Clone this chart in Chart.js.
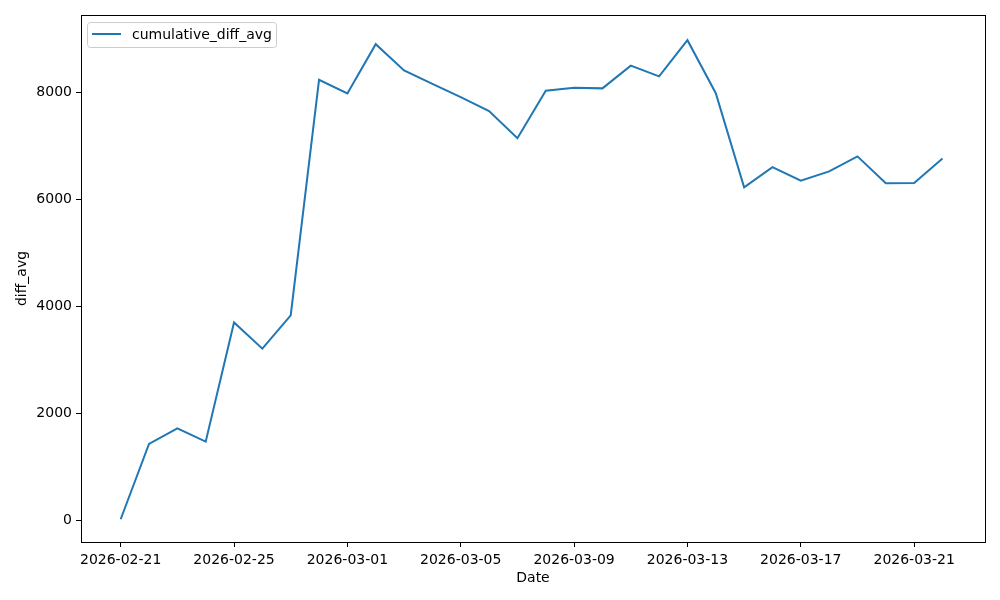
<!DOCTYPE html>
<html>
<head>
<meta charset="utf-8">
<script src="https://cdn.jsdelivr.net/npm/chart.js@4/dist/chart.umd.min.js"></script>
<style>
  body { margin: 0; background: #fff; }
  #wrap { width: 1000px; height: 600px; }
</style>
</head>
<body>
<div id="wrap"><canvas id="myChart" width="1000" height="600"></canvas></div>
<script>
const dates = [
  "2026-02-21", "2026-02-22", "2026-02-23", "2026-02-24", "2026-02-25",
  "2026-02-26", "2026-02-27", "2026-02-28", "2026-03-01", "2026-03-02",
  "2026-03-03", "2026-03-04", "2026-03-05", "2026-03-06", "2026-03-07",
  "2026-03-08", "2026-03-09", "2026-03-10", "2026-03-11", "2026-03-12",
  "2026-03-13", "2026-03-14", "2026-03-15", "2026-03-16", "2026-03-17",
  "2026-03-18", "2026-03-19", "2026-03-20", "2026-03-21", "2026-03-22"
];
const cumulativeDiffAvg = [
  30, 1435, 1725, 1478, 3705, 3215, 3838, 8235, 7980, 8900,
  8410, 8160, 7910, 7650, 7145, 8030, 8085, 8075, 8500, 8300,
  8975, 7985, 6228, 6603, 6350, 6525, 6805, 6305, 6308, 6765
];
const xTickIdx = [0, 4, 8, 12, 16, 20, 24, 28];
const yTicks = [0, 2000, 4000, 6000, 8000];

const FONT = "'DejaVu Sans', sans-serif";
const points = dates.map((d, i) => ({ x: i, y: cumulativeDiffAvg[i] }));

// matplotlib-style frame + legend box
const framePlugin = {
  id: "frame",
  afterDraw(chart) {
    const { ctx, chartArea: a } = chart;
    ctx.save();
    ctx.strokeStyle = "#000";
    ctx.lineWidth = 1;
    ctx.strokeRect(Math.round(a.left) + 0.5, Math.round(a.top) + 0.5,
      Math.round(a.right - a.left), Math.round(a.bottom - a.top));

    // legend
    const bx = a.left + 6, by = a.top + 7, bw = 189, bh = 25;
    ctx.fillStyle = "rgba(255,255,255,0.8)";
    ctx.strokeStyle = "#cccccc";
    ctx.beginPath();
    ctx.roundRect(bx + 0.5, by + 0.5, bw, bh, 3);
    ctx.fill();
    ctx.stroke();
    ctx.strokeStyle = "#1f77b4";
    ctx.lineWidth = 2;
    ctx.beginPath();
    ctx.moveTo(bx + 5, by + 12);
    ctx.lineTo(bx + 34, by + 12);
    ctx.stroke();
    ctx.fillStyle = "#000";
    ctx.font = "14px " + FONT;
    ctx.textBaseline = "middle";
    ctx.fillText("cumulative_diff_avg", bx + 45, by + 13);
    ctx.restore();
  }
};

const ctx = document.getElementById("myChart");
new Chart(ctx, {
  type: "line",
  data: {
    datasets: [{
      label: "cumulative_diff_avg",
      data: points,
      borderColor: "#1f77b4",
      borderWidth: 2,
      pointRadius: 0,
      tension: 0,
      fill: false
    }]
  },
  options: {
    responsive: false,
    animation: false,
    layout: { padding: { top: 15, right: 15, left: 0, bottom: 0 } },
    plugins: { legend: { display: false }, tooltip: { enabled: false } },
    scales: {
      x: {
        type: "linear",
        min: -1.4,
        max: 30.5,
        afterBuildTicks: s => { s.ticks = xTickIdx.map(v => ({ value: v })); },
        afterFit: s => { s.height = 58; },
        ticks: {
          color: "#000",
          font: { family: FONT, size: 14 },
          padding: 5,
          maxRotation: 0,
          autoSkip: false,
          callback: v => dates[v]
        },
        grid: { drawOnChartArea: false, tickLength: 5, color: "#000", tickWidth: 1 },
        border: { display: false },
        title: {
          display: true, text: "Date", color: "#000",
          font: { family: FONT, size: 14 }, padding: { top: 0, bottom: 13 }
        }
      },
      y: {
        min: -395,
        max: 9445,
        afterBuildTicks: s => { s.ticks = yTicks.map(v => ({ value: v })); },
        afterFit: s => { s.width = 81; },
        ticks: {
          color: "#000",
          font: { family: FONT, size: 14 },
          padding: 4,
          callback: v => String(v)
        },
        grid: { drawOnChartArea: false, tickLength: 5, color: "#000", tickWidth: 1 },
        border: { display: false },
        title: {
          display: true, text: "diff_avg", color: "#000",
          font: { family: FONT, size: 14 }, padding: { top: 14, bottom: 0 }
        }
      }
    }
  },
  plugins: [framePlugin]
});
</script>
</body>
</html>
